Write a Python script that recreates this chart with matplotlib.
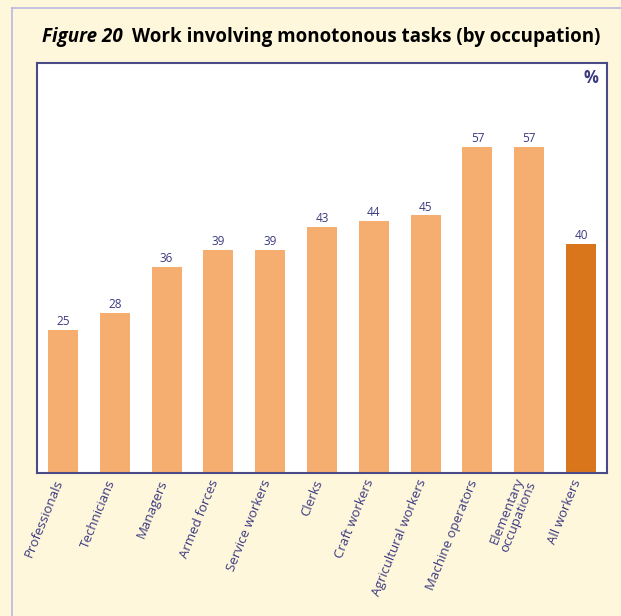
import matplotlib
matplotlib.use("Agg")
import matplotlib.pyplot as plt
from matplotlib.lines import Line2D

categories = ["Professionals", "Technicians", "Managers", "Armed forces", "Service workers",
              "Clerks", "Craft workers", "Agricultural workers", "Machine operators",
              "Elementary\noccupations", "All workers"]
values = [25, 28, 36, 39, 39, 43, 44, 45, 57, 57, 40]
light = "#F5AE6F"
dark = "#D9761C"
colors = [light] * 10 + [dark]
navy = "#3A3A80"
bg = "#FFF7DC"

plt.rcParams['font.family'] = ['Open Sans', 'DejaVu Sans']

fig = plt.figure(figsize=(6.21, 6.16), dpi=100)
fig.patch.set_facecolor(bg)

# outer frame lines
fig.add_artist(Line2D([12/621, 12/621], [0, 1-8/616], transform=fig.transFigure, color="#B8B8E0", lw=1.2))
fig.add_artist(Line2D([12/621, 1], [1-8/616, 1-8/616], transform=fig.transFigure, color="#B8B8E0", lw=1.2))

ax = fig.add_axes([37/621, 1-473/616, (607-37)/621, (473-63)/616])
ax.set_facecolor("white")
x = list(range(len(categories)))
ax.bar(x, values, width=0.58, color=colors, zorder=2)
ax.set_xlim(-0.5, 10.5)
ax.set_ylim(0, 71.6)
ax.set_yticks([])
ax.set_xticks([xi - 0.06 for xi in x])
ax.set_xticklabels(categories, rotation=68, ha='right', va='center', rotation_mode='anchor',
                   color=navy, fontsize=9.5, linespacing=0.95)
ax.tick_params(axis='x', length=0, pad=5)
for s in ax.spines.values():
    s.set_color("#4A4A88")
    s.set_linewidth(1.5)

for xi, v in zip(x, values):
    ax.text(xi, v + 0.3, str(v), ha='center', va='bottom', fontsize=8.5, color=navy)

ax.text(0.985, 0.985, "%", transform=ax.transAxes, ha='right', va='top', fontsize=12,
        fontweight='bold', color=navy)

t1 = fig.text(42/621, 1-37/616, "Figure 20", fontsize=13.5, fontweight='bold', style='italic',
              color='black', va='center', ha='left')
fig.canvas.draw()
bb = t1.get_window_extent()
fig.text((bb.x1 + 9) / fig.bbox.width, 1-37/616, "Work involving monotonous tasks (by occupation)",
         fontsize=13.5, fontweight='bold', color='black', va='center', ha='left')

fig.savefig("out.png", dpi=100, facecolor=bg)
